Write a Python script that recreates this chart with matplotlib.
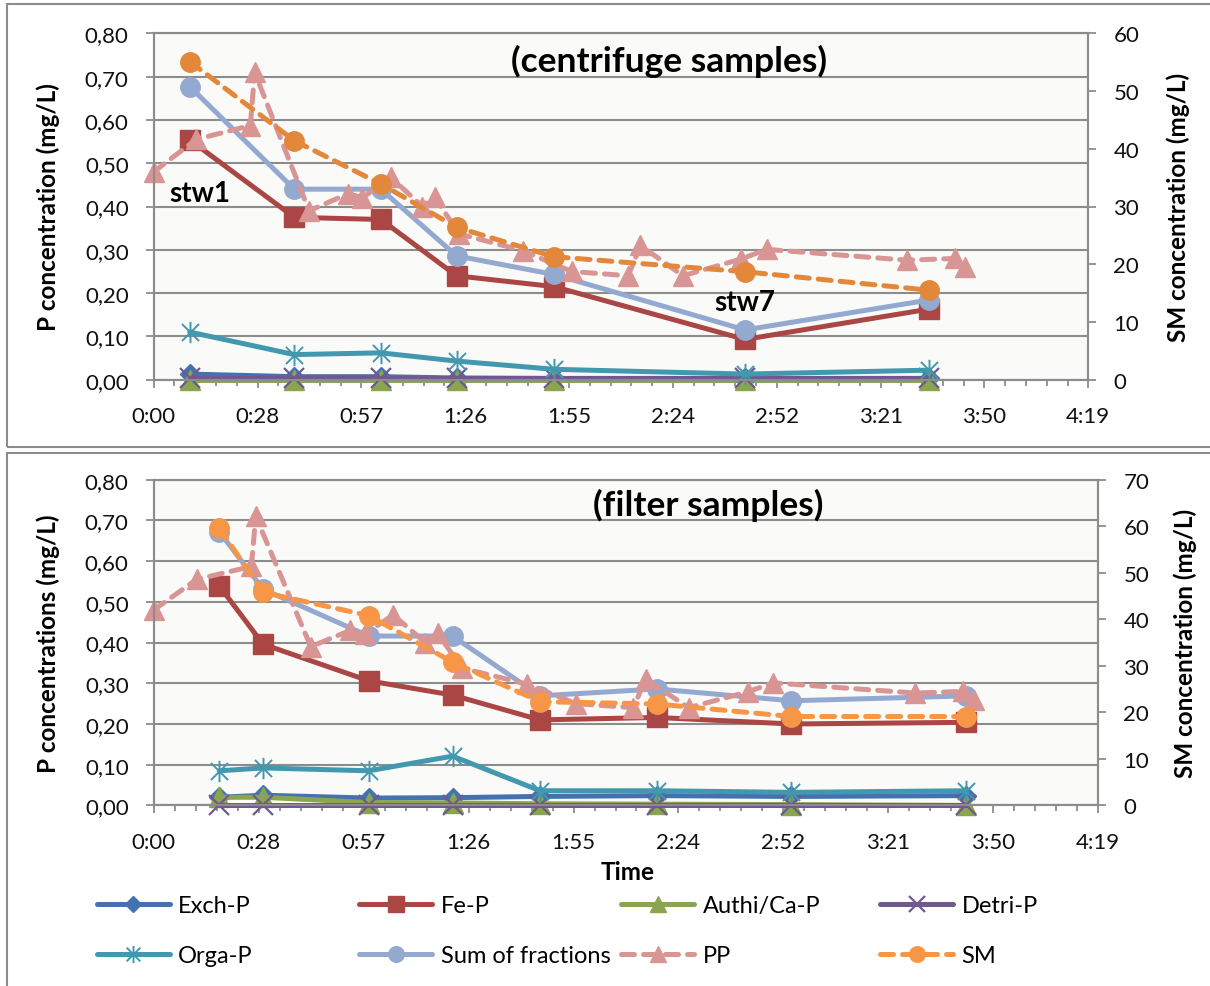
import matplotlib
matplotlib.use('Agg')
import matplotlib.pyplot as plt
from matplotlib.path import Path
from matplotlib.patches import Rectangle
from matplotlib.ticker import MultipleLocator, FixedLocator, FuncFormatter

plt.rcParams['font.family'] = ['Lato', 'DejaVu Sans']

# ---------------- data ----------------
time_ticks = [0, 28.8, 57.6, 86.4, 115.2, 144.0, 172.8, 201.6, 230.4, 259.2]   # minutes
time_tick_labels = ['0:00', '0:28', '0:57', '1:26', '1:55', '2:24', '2:52', '3:21', '3:50', '4:19']
p_ticks = [0.0, 0.1, 0.2, 0.3, 0.4, 0.5, 0.6, 0.7, 0.8]

series_names = ['Exch-P', 'Fe-P', 'Authi/Ca-P', 'Detri-P', 'Orga-P', 'Sum of fractions', 'PP', 'SM']

# centrifuge samples (top)
t_centrifuge = [10, 39, 63, 84, 111, 164, 215]
c_exch = [0.013, 0.007, 0.007, 0.004, 0.003, 0.003, 0.003]
c_fe = [0.554, 0.375, 0.370, 0.240, 0.215, 0.093, 0.163]
c_authi = [0.0, 0.0, 0.0, 0.0, 0.0, 0.0, 0.0]
c_detri = [0.003, 0.003, 0.003, 0.003, 0.003, 0.003, 0.003]
c_orga = [0.110, 0.058, 0.062, 0.043, 0.024, 0.013, 0.022]
c_sum = [0.677, 0.440, 0.440, 0.286, 0.243, 0.115, 0.184]
c_sm = [55.1, 41.4, 33.9, 26.4, 21.3, 18.7, 15.5]

# filter samples (bottom)
t_filter = [18, 30, 59, 82, 106, 138, 175, 223]
f_exch = [0.020, 0.025, 0.018, 0.019, 0.022, 0.024, 0.022, 0.024]
f_fe = [0.539, 0.396, 0.306, 0.271, 0.210, 0.216, 0.200, 0.204]
f_authi = [0.020, 0.020, 0.007, 0.006, 0.004, 0.003, 0.002, 0.000]
f_detri = [0.001, 0.001, 0.001, 0.001, 0.001, 0.001, 0.001, 0.001]
f_orga = [0.085, 0.092, 0.085, 0.121, 0.036, 0.036, 0.032, 0.036]
f_sum = [0.672, 0.531, 0.416, 0.416, 0.269, 0.286, 0.257, 0.269]
f_sm = [59.6, 45.8, 40.8, 30.8, 22.3, 21.8, 19.1, 19.1]

# particulate P (same record in both panels)
t_pp = [0, 11.8, 26.8, 28.0, 43.1, 54.0, 57.9, 65.7, 74.5, 77.9, 84.6,
        102.4, 115.9, 131.6, 135.0, 146.8, 163.0, 170.0, 208.9, 222.2, 225.0]
pp = [0.480, 0.555, 0.587, 0.710, 0.390, 0.430, 0.420, 0.468, 0.400, 0.423, 0.337,
      0.298, 0.250, 0.240, 0.310, 0.240, 0.279, 0.301, 0.276, 0.280, 0.260]

# ---------------- style ----------------
W, H = 1210, 987
GRID = '#8c8c8c'
col = {
    'Exch-P': '#4472B0',
    'Fe-P': '#AA4643',
    'Authi/Ca-P': '#89A54E',
    'Detri-P': '#71588F',
    'Orga-P': '#4198AF',
    'Sum of fractions': '#93A9CF',
    'PP': '#D99594',
}
star = Path([(-1, -1), (1, 1), (-1, 1), (1, -1), (0, -1.25), (0, 1.25)],
            [Path.MOVETO, Path.LINETO, Path.MOVETO, Path.LINETO, Path.MOVETO, Path.LINETO])
LW = 3.6
MS = 14
LABEL_FS = 17.5

fig = plt.figure(figsize=(W / 100, H / 100), dpi=100)
fig.patch.set_facecolor('white')

# chart borders
fig.patches.append(Rectangle((7.3 / W, 1 - 447.5 / H), 1.2, (447.5 - 4.7) / H,
                             transform=fig.transFigure, fill=False, ec='#8c8c8c', lw=1.5))
fig.patches.append(Rectangle((7.3 / W, -0.1), 1.2, (1 - 454 / H) + 0.1,
                             transform=fig.transFigure, fill=False, ec='#8c8c8c', lw=1.5))


def px_axes(l, t, r, b):
    return fig.add_axes([l / W, 1 - b / H, (r - l) / W, (b - t) / H])


def panel(ax, t, exch, fe, authi, detri, orga, ssum, sm, sm_max, sm_color, ylabel):
    ax.set_facecolor('#FAFAF9')
    kw = dict(lw=LW, clip_on=False, solid_joinstyle='round', solid_capstyle='round', zorder=3)
    handles = []
    handles.append(ax.plot(t, exch, color=col['Exch-P'], marker='D', ms=MS * 0.75, **kw)[0])
    handles.append(ax.plot(t, fe, color=col['Fe-P'], marker='s', ms=MS, **kw)[0])
    handles.append(ax.plot(t, authi, color=col['Authi/Ca-P'], marker='^', ms=MS, **kw)[0])
    handles.append(ax.plot(t, detri, color=col['Detri-P'], marker='x', ms=MS, mew=1.6, **kw)[0])
    handles.append(ax.plot(t, orga, color=col['Orga-P'], marker=star, ms=MS * 1.1, mew=1.4, **kw)[0])
    handles.append(ax.plot(t, ssum, color=col['Sum of fractions'], marker='o', ms=MS, **kw)[0])
    handles.append(ax.plot(t_pp, pp, color=col['PP'], marker='^', ms=MS, ls=(0, (2.6, 1.8)),
                           dash_capstyle='round', lw=LW, clip_on=False, zorder=3)[0])
    ax.set_xlim(0, 259.2)
    ax.set_ylim(0, 0.8)
    ax.xaxis.set_major_locator(FixedLocator(time_ticks))
    ax.set_xticklabels(time_tick_labels)
    ax.xaxis.set_minor_locator(MultipleLocator(5.76))
    ax.yaxis.set_major_locator(FixedLocator(p_ticks))
    ax.yaxis.set_major_formatter(FuncFormatter(lambda v, p: f'{v:.2f}'.replace('.', ',')))
    ax.grid(axis='y', color=GRID, lw=1.5)
    ax.set_axisbelow(True)
    ax.tick_params(axis='both', which='major', direction='out', length=6, width=1.3,
                   color=GRID, labelsize=16, pad=12, labelcolor='#111111')
    ax.tick_params(axis='x', which='minor', direction='out', length=4.5, width=1.3, color=GRID)
    ax.tick_params(axis='x', pad=13)
    for s in ax.spines.values():
        s.set_color(GRID)
        s.set_linewidth(1.5)
    ax.set_ylabel(ylabel, fontsize=LABEL_FS, fontweight='bold')

    ax2 = ax.twinx()
    handles.append(ax2.plot(t, sm, color=sm_color, marker='o', ms=MS, ls=(0, (2.6, 1.8)),
                            dash_capstyle='round', lw=LW, clip_on=False, zorder=3)[0])
    ax2.set_ylim(0, sm_max)
    ax2.yaxis.set_major_locator(MultipleLocator(10))
    ax2.tick_params(axis='y', direction='out', length=6, width=1.3, color=GRID,
                    labelsize=16, pad=12, labelcolor='#111111')
    for s in ax2.spines.values():
        s.set_color(GRID)
        s.set_linewidth(1.5)
    ax2.set_ylabel('SM concentration (mg/L)', fontsize=LABEL_FS, fontweight='bold')
    return handles, ax2


ax_top = px_axes(153.7, 34.3, 1088.3, 380.7)
h_top, ax_top2 = panel(ax_top, t_centrifuge, c_exch, c_fe, c_authi, c_detri, c_orga, c_sum,
                       c_sm, 60, '#E3883A', 'P concentration (mg/L)')
ax_bot = px_axes(153.7, 480.7, 1098.3, 806.4)
h_bot, ax_bot2 = panel(ax_bot, t_filter, f_exch, f_fe, f_authi, f_detri, f_orga, f_sum,
                       f_sm, 70, '#F79646', 'P concentrations (mg/L)')
ax_bot.set_xlabel('Time', fontsize=LABEL_FS, fontweight='bold', labelpad=4)

# label positions
ax_top.yaxis.set_label_coords(60.3 / W, 1 - 207.5 / H, transform=fig.transFigure)
ax_top2.yaxis.set_label_coords(1166.7 / W, 1 - 207.5 / H, transform=fig.transFigure)
ax_bot.yaxis.set_label_coords(60.3 / W, 1 - 643.4 / H, transform=fig.transFigure)
ax_bot2.yaxis.set_label_coords(1173.3 / W, 1 - 643.4 / H, transform=fig.transFigure)
ax_bot.xaxis.set_label_coords(628 / W, 1 - 873 / H, transform=fig.transFigure)
ax_bot.xaxis.label.set_va('center')

fig.text(668.7 / W, 1 - 61 / H, '(centrifuge samples)', fontsize=25.5, fontweight='bold',
         ha='center', va='center')
fig.text(708.5 / W, 1 - 505 / H, '(filter samples)', fontsize=25.5, fontweight='bold',
         ha='center', va='center')
fig.text(200 / W, 1 - 194 / H, 'stw1', fontsize=20, fontweight='bold', ha='center', va='center')
fig.text(745 / W, 1 - 303 / H, 'stw7', fontsize=20, fontweight='bold', ha='center', va='center')

# legend: 4 columns x 2 rows
col_x = [96.5, 359, 621, 880]
row_y = [906.7, 956.7]
for i, (h, name) in enumerate(zip(h_bot, series_names)):
    r, c = divmod(i, 4)
    fig.legend([h], [name], loc='center left',
               bbox_to_anchor=(col_x[c] / W, 1 - row_y[r] / H),
               frameon=False, fontsize=17, handlelength=3.1, handletextpad=0.36,
               borderpad=0, borderaxespad=0, markerscale=0.8)

fig.savefig('out.png', dpi=100)
